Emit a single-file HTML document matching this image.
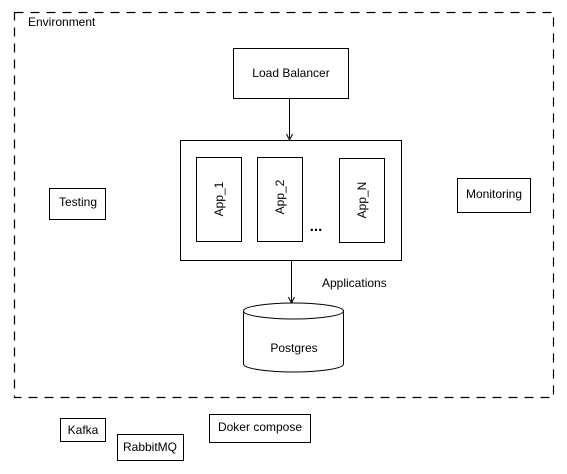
<!DOCTYPE html>
<html><head><meta charset="utf-8"><style>
html,body{margin:0;padding:0;background:#fff;}
svg{display:block;}
text{font-family:"Liberation Sans",Arial,sans-serif;font-size:12px;fill:#000;}
</style></head><body>
<svg width="567" height="474" viewBox="0 0 567 474" xmlns="http://www.w3.org/2000/svg">
<rect x="14.5" y="12.5" width="539" height="385" fill="none" stroke="#000" stroke-width="1.2" stroke-dasharray="9,7"/>
<text x="28" y="26">Environment</text>

<rect x="233.5" y="48.5" width="115" height="50" fill="#fff" stroke="#000"/>
<text x="291" y="77" text-anchor="middle">Load Balancer</text>

<line x1="289.5" y1="98" x2="289.5" y2="138" stroke="#000"/>
<path d="M286.5,134 L289.5,140 L292.5,134" fill="none" stroke="#000"/>

<rect x="180.5" y="140.5" width="221" height="120" fill="#fff" stroke="#000"/>
<rect x="196.5" y="157.5" width="45" height="84" fill="#fff" stroke="#000"/>
<rect x="257.5" y="157.5" width="45" height="84" fill="#fff" stroke="#000"/>
<rect x="339.5" y="158.5" width="45" height="84" fill="#fff" stroke="#000"/>
<text transform="translate(223,199) rotate(-90)" text-anchor="middle">App_1</text>
<text transform="translate(284,197) rotate(-90)" text-anchor="middle">App_2</text>
<text transform="translate(366,200) rotate(-90)" text-anchor="middle">App_N</text>
<text x="316" y="231" text-anchor="middle" style="font-size:15px;font-weight:bold">...</text>

<line x1="291.5" y1="260" x2="291.5" y2="302" stroke="#000"/>
<path d="M288.5,297 L291.5,303 L294.5,297" fill="none" stroke="#000"/>
<text x="322" y="287">Applications</text>

<path d="M243.5,311 L243.5,364 A50,8 0 0 0 343.5,364 L343.5,311" fill="#fff" stroke="#000"/>
<ellipse cx="293.5" cy="311" rx="50" ry="8" fill="#fff" stroke="#000"/>
<text x="294" y="352" text-anchor="middle">Postgres</text>

<rect x="49.5" y="188.5" width="56" height="31" fill="#fff" stroke="#000"/>
<text x="78" y="206" text-anchor="middle">Testing</text>

<rect x="457.5" y="178.5" width="73" height="34" fill="#fff" stroke="#000"/>
<text x="494" y="198" text-anchor="middle">Monitoring</text>

<rect x="60.5" y="418.5" width="45" height="23" fill="#fff" stroke="#000"/>
<text x="83" y="434" text-anchor="middle">Kafka</text>

<rect x="117.5" y="434.5" width="66" height="26" fill="#fff" stroke="#000"/>
<text x="150" y="451" text-anchor="middle">RabbitMQ</text>

<rect x="209.5" y="414.5" width="101" height="28" fill="#fff" stroke="#000"/>
<text x="260" y="431" text-anchor="middle">Doker compose</text>
</svg>
</body></html>
